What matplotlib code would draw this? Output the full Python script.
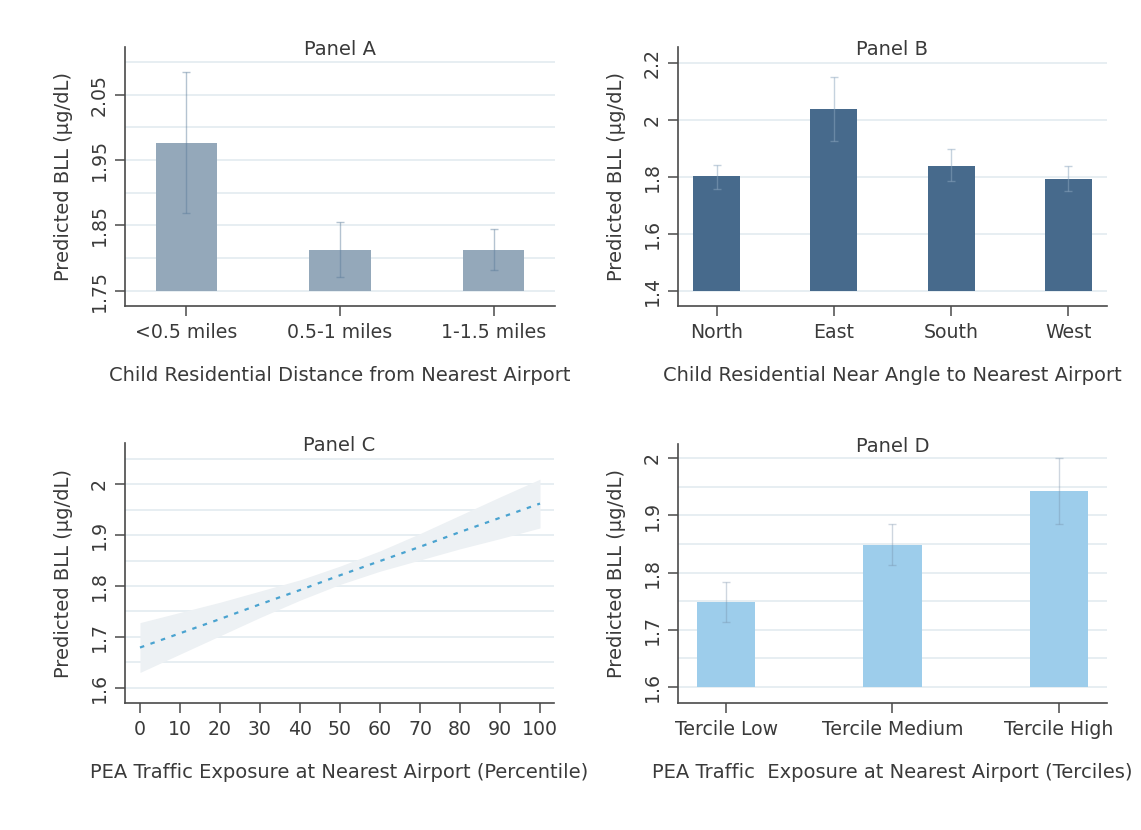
import matplotlib
matplotlib.use("Agg")
import matplotlib.pyplot as plt
import numpy as np

# ---------------- data ----------------
a_cats = ["<0.5 miles", "0.5-1 miles", "1-1.5 miles"]
a_vals = [1.976, 1.813, 1.812]
a_lo = [1.869, 1.772, 1.782]
a_hi = [2.084, 1.855, 1.844]

b_cats = ["North", "East", "South", "West"]
b_vals = [1.802, 2.037, 1.837, 1.793]
b_lo = [1.758, 1.927, 1.784, 1.749]
b_hi = [1.843, 2.150, 1.897, 1.837]

c_x = [0, 10, 20, 30, 40, 50, 60, 70, 80, 90, 100]
c_fit = [1.679, 1.707, 1.735, 1.764, 1.792, 1.821, 1.849, 1.877, 1.906, 1.934, 1.962]
c_lo = [1.630, 1.666, 1.702, 1.738, 1.772, 1.803, 1.829, 1.851, 1.873, 1.893, 1.914]
c_hi = [1.728, 1.748, 1.768, 1.790, 1.812, 1.839, 1.869, 1.903, 1.939, 1.975, 2.010]

d_cats = ["Tercile Low", "Tercile Medium", "Tercile High"]
d_vals = [1.748, 1.849, 1.942]
d_lo = [1.713, 1.813, 1.885]
d_hi = [1.783, 1.885, 2.000]

# ---------------- style ----------------
plt.rcParams['font.family'] = ['DejaVu Sans']
TXT = '#3a3a3a'
SPINE = '#4a4a4a'
GRID = '#e7eef2'
FS = 14.0
TFS = 13.6

W, H = 1141, 830
fig = plt.figure(figsize=(W / 100, H / 100), dpi=100)
fig.patch.set_facecolor('white')


def add_axes(l, r, t, b):
    return fig.add_axes([l / W, 1 - b / H, (r - l) / W, (b - t) / H])


def style(ax, ticks, ylim, gridticks, title, xlabel, ticklabels=None):
    ax.set_ylim(*ylim)
    for s in ['top', 'right']:
        ax.spines[s].set_visible(False)
    for s in ['left', 'bottom']:
        ax.spines[s].set_color(SPINE)
        ax.spines[s].set_linewidth(1.2)
    ax.set_yticks(ticks)
    ax.set_yticklabels(ticklabels if ticklabels else [f"{t:g}" for t in ticks],
                       rotation=90, va='center')
    for g in gridticks:
        ax.axhline(g, color=GRID, lw=1.4, zorder=0)
    ax.tick_params(axis='both', direction='out', length=7.5, width=1.1,
                   color=SPINE, labelcolor=TXT, labelsize=TFS)
    ax.tick_params(axis='y', pad=4)
    ax.tick_params(axis='x', pad=5)
    ax.text(0.5, 0.99, title, transform=ax.transAxes, ha='center',
            va='center', fontsize=FS, color=TXT)
    ax.set_ylabel("Predicted BLL (µg/dL)", fontsize=FS, color=TXT, labelpad=12)
    ax.set_xlabel(xlabel, fontsize=FS, color=TXT, labelpad=17)


def bars(ax, cats, vals, lo, hi, base, color, ecolor, width):
    x = np.arange(len(cats))
    heights = np.array(vals) - base
    ax.bar(x, heights, bottom=base, width=width, color=color, zorder=2)
    yerr = [np.array(vals) - np.array(lo), np.array(hi) - np.array(vals)]
    ax.errorbar(x, vals, yerr=yerr, fmt='none', ecolor=ecolor, elinewidth=1.0,
                capsize=3.2, capthick=1.0, zorder=3)
    ax.set_xticks(x)
    ax.set_xticklabels(cats)


# Panel A
axA = add_axes(125, 555, 47, 306)
bars(axA, a_cats, a_vals, a_lo, a_hi, 1.75, '#94a8ba', (0.35, 0.48, 0.60, 0.45), 0.4)
axA.set_xlim(-0.4, 2.4)
style(axA, [1.75, 1.85, 1.95, 2.05], (1.727, 2.1226),
      [1.75, 1.80, 1.85, 1.90, 1.95, 2.00, 2.05, 2.10], "Panel A",
      "Child Residential Distance from Nearest Airport")

# Panel B
axB = add_axes(678, 1107, 47, 306)
bars(axB, b_cats, b_vals, b_lo, b_hi, 1.4, '#476a8c', (0.55, 0.65, 0.75, 0.5), 0.4)
axB.set_xlim(-0.33, 3.33)
style(axB, [1.4, 1.6, 1.8, 2.0, 2.2], (1.346, 2.256),
      [1.4, 1.6, 1.8, 2.0, 2.2], "Panel B",
      "Child Residential Near Angle to Nearest Airport")

# Panel C
axC = add_axes(125, 554, 443, 703)
axC.fill_between(c_x, c_lo, c_hi, color='#edf1f4', lw=0, zorder=1)
axC.plot(c_x, c_fit, color='#4aa3d0', lw=1.6, linestyle=(0, (2, 3)), zorder=2)
axC.set_xlim(-3.75, 103.5)
axC.set_xticks(c_x)
style(axC, [1.6, 1.7, 1.8, 1.9, 2.0], (1.570, 2.081),
      [1.6, 1.65, 1.7, 1.75, 1.8, 1.85, 1.9, 1.95, 2.0, 2.05], "Panel C",
      "PEA Traffic Exposure at Nearest Airport (Percentile)")

# Panel D
axD = add_axes(678, 1107, 444, 703)
bars(axD, d_cats, d_vals, d_lo, d_hi, 1.6, '#9dcdeb', (0.45, 0.55, 0.65, 0.35), 0.35)
axD.set_xlim(-0.29, 2.29)
style(axD, [1.6, 1.7, 1.8, 1.9, 2.0], (1.572, 2.025),
      [1.6, 1.65, 1.7, 1.75, 1.8, 1.85, 1.9, 1.95, 2.0], "Panel D",
      "PEA Traffic  Exposure at Nearest Airport (Terciles)")

fig.savefig("out.png", dpi=100, facecolor='white')
